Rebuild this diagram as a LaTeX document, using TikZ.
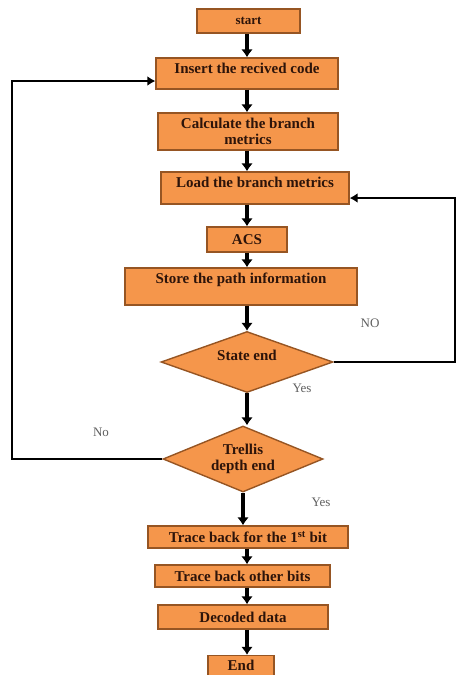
\documentclass[tikz,border=0pt]{standalone}
\usepackage{fontspec}
\setmainfont{Liberation Serif}
\usetikzlibrary{shapes.geometric, arrows.meta}

\definecolor{boxfill}{RGB}{245,150,75}
\definecolor{boxline}{RGB}{150,85,35}
\definecolor{inktext}{RGB}{45,20,10}
\definecolor{answer}{RGB}{95,95,95}

\begin{document}
\begin{tikzpicture}[x=1pt, y=-1pt,
	blk/.style={draw=boxline, line width=1.4pt, fill=boxfill, text=inktext, font=\fontsize{15}{16}\selectfont\bfseries, inner xsep=2pt, inner ysep=4pt, align=center},
	top/.style={text height=11pt, text depth=#1},
	dec/.style={blk, diamond, inner sep=0pt},
	flow/.style={line width=4.2pt, -{Latex[length=8pt,width=12pt]}},
	back/.style={line width=2.8pt, -{Latex[length=8pt,width=10pt]}},
	ans/.style={text=answer, font=\fontsize{13}{13}\selectfont}]
		
		\useasboundingbox (0,0) rectangle (457,675);
		
		\node[blk, minimum width=103pt, minimum height=24pt, font=\fontsize{13}{13}\selectfont\bfseries] (start) at (248.5,21) {start};
		\node[blk, minimum width=182pt, top=12pt] (insert) at (247,73.5) {Insert the recived code};
		\node[blk, minimum width=180pt, minimum height=37pt] (calc) at (248,131.5) {Calculate the branch\\metrics};
		\node[blk, minimum width=188pt, top=13pt] (load) at (255,188) {Load the branch metrics};
		\node[blk, minimum width=80pt, minimum height=25pt] (acs) at (247,239.5) {ACS};
		\node[blk, minimum width=232pt, top=18pt] (store) at (241,286.5) {Store the path information};
		\node[dec, shape aspect=2.8, minimum width=172pt, minimum height=61pt, top=14pt] (state) at (247,362) {State end};
		\node[dec, shape aspect=2.4, minimum width=160pt, minimum height=66pt] (trellis) at (243,459) {Trellis\\depth end};
		\node[blk, minimum width=200pt, minimum height=22pt, inner ysep=1pt] (first) at (248,537) {Trace back for the 1\textsuperscript{st} bit};
		\node[blk, minimum width=175pt, minimum height=22pt, inner ysep=1pt] (other) at (242.5,576) {Trace back other bits};
		\node[blk, minimum width=170pt, minimum height=24pt] (decoded) at (243,617) {Decoded data};
		\node[blk, minimum width=66pt, minimum height=20pt, inner ysep=1pt] (end) at (241,665.5) {End};
		
		\node[ans] (no1) at (370,323) {NO};
		\node[ans] (yes1) at (302,388) {Yes};
		\node[ans] (no2) at (101,432) {No};
		\node[ans] (yes2) at (321,502) {Yes};
		
		\coordinate (ax) at (247,0);
		\coordinate (lft) at (12,0);
		\coordinate (rgt) at (455,0);
		
		\draw[flow] (start.south -| ax) -- (insert.north -| ax);
		\draw[flow] (insert.south -| ax) -- (calc.north -| ax);
		\draw[flow] (calc.south -| ax) -- (load.north -| ax);
		\draw[flow] (load.south -| ax) -- (acs.north -| ax);
		\draw[flow] (acs.south -| ax) -- (store.north -| ax);
		\draw[flow] (store.south -| ax) -- (state.north -| ax);
		\draw[flow] (state.south) -- (trellis.north -| state.south);
		\draw[flow] (trellis.south) -- (first.north -| trellis.south);
		\draw[flow] (first.south -| ax) -- (other.north -| ax);
		\draw[flow] (other.south -| ax) -- (decoded.north -| ax);
		\draw[flow] (decoded.south -| ax) -- (end.north -| ax);
		
		\draw[back] (state.east) -- (state.east -| rgt) |- ([yshift=-10pt]load.east);
		\draw[back] (trellis.west) -- (trellis.west -| lft) |- ([yshift=-7.5pt]insert.west);
		
		\end{tikzpicture}
\end{document}
